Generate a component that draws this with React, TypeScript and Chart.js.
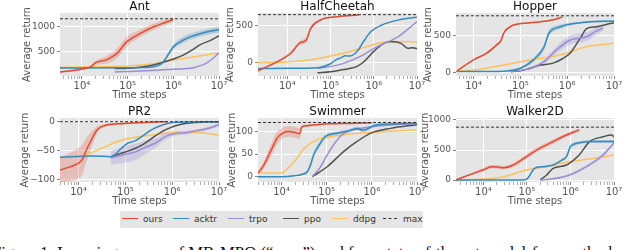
import React, { useEffect, useRef } from "react";
import { Chart, registerables } from "chart.js";

Chart.register(...registerables);
Chart.defaults.font.family = '"DejaVu Sans", sans-serif';

// ---------------- DATA ----------------
// Ant
const antOursSteps = [3.3e3, 6.3e3, 1e4, 1.6e4, 1.9e4, 3.5e4, 5.75e4, 9.5e4, 1.86e5, 3.6e5, 7.1e5, 1e6];
const antOursReturn = [90, 120, 150, 200, 265, 335, 455, 690, 855, 985, 1085, 1135];
const antOursStd = [15, 20, 25, 30, 40, 75, 95, 95, 75, 65, 55, 45];
const antAcktrSteps = [3.3e3, 1e5, 3.1e5, 5e5, 6e5, 7.9e5, 1e6, 1.6e6, 2.5e6, 3.8e6, 6.3e6, 1e7];
const antAcktrReturn = [170, 175, 185, 230, 290, 450, 590, 720, 800, 850, 900, 930];
const antAcktrStd = [5, 5, 10, 20, 30, 40, 50, 60, 60, 60, 60, 60];
const antTrpoSteps = [5.2e4, 1e5, 3.2e5, 1e6, 2.75e6, 5.4e6, 1e7];
const antTrpoReturn = [90, 100, 120, 145, 175, 270, 470];
const antPpoSteps = [5.2e4, 1e5, 2e5, 4e5, 6.3e5, 1e6, 1.6e6, 2.5e6, 4e6, 6.9e6, 1e7];
const antPpoReturn = [160, 165, 190, 240, 290, 350, 420, 520, 640, 730, 810];
const antDdpgSteps = [3.3e3, 1e4, 3.2e4, 1e5, 3.2e5, 1e6, 3.2e6, 1e7];
const antDdpgReturn = [185, 188, 195, 210, 250, 330, 400, 470];
const antMax = 1150;
const antTicks = [500, 1000];

// HalfCheetah
const hcOursSteps = [2.1e3, 5.9e3, 1.2e4, 2.0e4, 2.7e4, 3.5e4, 5.9e4, 1.45e5, 4.5e5];
const hcOursReturn = [-116, 8, 124, 270, 300, 470, 582, 628, 650];
const hcOursStd = [15, 15, 20, 30, 40, 30, 15, 10, 10];
const hcAcktrSteps = [2.1e3, 1e4, 5e4, 1e5, 1.4e5, 1.74e5, 2.24e5, 2.8e5, 3.5e5, 4.5e5, 6e5, 8.5e5, 1.5e6, 3.6e6, 1e7];
const hcAcktrReturn = [-85, -83, -75, -20, 40, 60, 90, 85, 110, 180, 300, 420, 510, 580, 620];
const hcTrpoSteps = [5e4, 1e5, 2e5, 4.9e5, 1.2e6, 3.6e6, 6.3e6, 1e7];
const hcTrpoReturn = [-80, -60, -15, 80, 215, 350, 460, 560];
const hcPpoSteps = [5e4, 1e5, 2e5, 2.9e5, 4e5, 6e5, 1e6, 1.6e6, 2.5e6, 4.3e6, 6.2e6, 7.9e6, 1e7];
const hcPpoReturn = [-145, -130, -100, -83, -60, 10, 150, 250, 285, 260, 190, 200, 190];
const hcDdpgSteps = [2.1e3, 1e4, 3.2e4, 1e5, 2e5, 6.9e5, 1.7e6, 4e6, 1e7];
const hcDdpgReturn = [-5, 5, 30, 85, 125, 215, 275, 285, 280];
const hcMax = 655;
const hcTicks = [0, 500];

// Hopper
const hopOursSteps = [4.4e3, 1e4, 1.9e4, 3.4e4, 3.8e4, 4.4e4, 5.6e4, 7.1e4, 1.6e5, 3.2e5, 5e5, 7.9e5];
const hopOursReturn = [25, 175, 265, 400, 430, 540, 610, 650, 680, 700, 720, 760];
const hopOursStd = [5, 10, 15, 20, 25, 25, 15, 10, 10, 10, 10, 10];
const hopAcktrSteps = [4.3e3, 3.2e4, 6.3e4, 1e5, 1.9e5, 3.2e5, 4e5, 7.1e5, 1.9e6, 1e7];
const hopAcktrReturn = [15, 15, 30, 60, 175, 350, 530, 625, 680, 705];
const hopAcktrStd = [3, 3, 5, 10, 30, 40, 40, 30, 15, 10];
const hopTrpoSteps = [6e4, 1.6e5, 3.2e5, 5.9e5, 1.15e6, 2.6e6, 4e6, 5.9e6];
const hopTrpoReturn = [15, 55, 150, 310, 445, 490, 560, 610];
const hopTrpoStd = [3, 10, 30, 50, 60, 60, 50, 40];
const hopPpoSteps = [6e4, 1e5, 1.6e5, 2.5e5, 5e5, 7.9e5, 1.15e6, 1.9e6, 2.6e6, 4.2e6, 7.1e6, 1e7];
const hopPpoReturn = [15, 25, 60, 100, 130, 190, 264, 470, 600, 625, 660, 680];
const hopDdpgSteps = [4.3e3, 1e4, 4.4e4, 1.6e5, 7.1e5, 2.6e6, 1e7];
const hopDdpgReturn = [20, 37, 105, 173, 240, 355, 400];
const hopMax = 775;
const hopTicks = [0, 500];

// PR2
const prOursSteps = [4e3, 6.3e3, 9.1e3, 1.2e4, 1.4e4, 1.8e4, 2.5e4, 3.5e4, 9.5e4, 3.2e5, 7.9e5];
const prOursReturn = [-83, -78, -73, -65, -52, -34, -14, -7, -3, -1, 0];
const prOursStd = [22, 24, 26, 26, 22, 15, 6, 3, 2, 1, 1];
const prAcktrSteps = [4e3, 2e4, 4.9e4, 6.3e4, 8.1e4, 1.12e5, 1.6e5, 2.2e5, 3.6e5, 6e5, 1.17e6, 1e7];
const prAcktrReturn = [-61, -59, -60, -55, -46, -37, -33, -26, -14, -6, -1, 0];
const prTrpoSteps = [4.9e4, 1e5, 1.6e5, 2.5e5, 4.3e5, 8.3e5, 2.3e6, 6.3e6, 1e7];
const prTrpoReturn = [-62, -56, -52, -45, -37, -23, -18, -11, -5];
const prTrpoStd = [12, 14, 14, 12, 8, 5, 3, 3, 3];
const prPpoSteps = [4.9e4, 1e5, 1.6e5, 2.5e5, 3.6e5, 7.1e5, 1.9e6, 1e7];
const prPpoReturn = [-60, -52, -46, -38, -29, -14, -3, 0];
const prDdpgSteps = [4e3, 9.1e3, 1.6e4, 3e4, 6.3e4, 1.12e5, 3.6e5, 1.4e6, 4e6, 1e7];
const prDdpgReturn = [-60, -60, -55, -46, -35, -29, -23, -18, -19, -23];
const prMax = 0;
const prTicks = [-100, -50, 0];

// Swimmer
const swOursSteps = [3.0e3, 4e3, 5.2e3, 6.3e3, 7.9e3, 1e4, 1.35e4, 2e4, 2.5e4, 2.8e4, 3.7e4, 1e5, 3.2e5, 1e6];
const swOursReturn = [8, 25, 48, 65, 85, 95, 100, 98, 95, 110, 113, 117, 118, 119];
const swOursStd = [4, 8, 12, 14, 14, 12, 12, 12, 12, 5, 3, 2, 2, 2];
const swAcktrSteps = [3.0e3, 1e4, 1.9e4, 2.8e4, 3.7e4, 4.5e4, 5.1e4, 6.8e4, 9.3e4, 1.7e5, 3.2e5, 4.7e5, 6.3e5, 1.3e6, 1e7];
const swAcktrReturn = [0, 0, 2, 5, 11, 30, 48, 70, 89, 96, 102, 107, 103, 115, 118];
const swAcktrStd = [0, 0, 1, 2, 3, 5, 6, 6, 5, 4, 4, 4, 6, 3, 2];
const swTrpoSteps = [4.8e4, 7.1e4, 1.02e5, 1.6e5, 2.4e5, 5.6e5, 3e6, 1e7];
const swTrpoReturn = [0, 20, 48, 78, 96, 107, 115, 118];
const swPpoSteps = [4.8e4, 1.02e5, 2.4e5, 4.7e5, 9.3e5, 2.6e6, 1e7];
const swPpoReturn = [0, 22, 56, 78, 96, 107, 115];
const swDdpgSteps = [3.0e3, 1e4, 1.4e4, 1.9e4, 3.2e4, 6.2e4, 1e5, 2.4e5, 1.3e6, 1e7];
const swDdpgReturn = [8, 8, 20, 33, 63, 82, 87, 93, 99, 104];
const swMax = 120;
const swTicks = [0, 50, 100];

// Walker2D
const wkOursSteps = [2.3e3, 5.9e3, 1e4, 1.55e4, 2.2e4, 2.9e4, 4.9e4, 9.8e4, 2e5, 4e5, 8.1e5, 1.6e6];
const wkOursReturn = [0, 110, 170, 220, 215, 205, 250, 390, 530, 640, 750, 835];
const wkOursStd = [5, 20, 30, 30, 30, 30, 35, 40, 40, 40, 30, 25];
const wkAcktrSteps = [2.3e3, 7.9e4, 1e5, 1.12e5, 1.5e5, 2.34e5, 4e5, 6.3e5, 8.1e5, 1e6, 1.15e6, 1.6e6, 3.2e6, 1e7];
const wkAcktrReturn = [0, 0, 20, 60, 195, 222, 250, 330, 390, 560, 590, 620, 640, 640];
const wkAcktrStd = [0, 0, 3, 8, 15, 15, 15, 20, 25, 30, 30, 25, 25, 25];
const wkTrpoSteps = [2e5, 4e5, 9.5e5, 2.3e6, 5.6e6, 1e7];
const wkTrpoReturn = [0, 20, 83, 222, 417, 620];
const wkTrpoStd = [0, 5, 15, 25, 30, 30];
const wkPpoSteps = [2e5, 2.8e5, 4e5, 8.1e5, 1.6e6, 2.75e6, 5.6e6, 8.7e6, 1e7];
const wkPpoReturn = [0, 80, 195, 250, 420, 640, 720, 750, 720];
const wkDdpgSteps = [2.3e3, 1e4, 2.9e4, 9.8e4, 2.8e5, 9.5e5, 3.3e6, 1e7];
const wkDdpgReturn = [0, 15, 56, 167, 222, 306, 360, 415];
const wkMax = 880;
const wkTicks = [0, 500, 1000];

const legendLabels = ["ours", "acktr", "trpo", "ppo", "ddpg", "max"];

// ---------------- STYLE / LAYOUT ----------------
const COLORS: Record<string, string> = {
  ours: "#E24A33",
  acktr: "#348ABD",
  trpo: "#988ED5",
  ppo: "#505050",
  ddpg: "#FBC15E",
  max: "#333333",
};
const BANDS: Record<string, string> = {
  ours: "rgba(226,74,51,0.25)",
  acktr: "rgba(52,138,189,0.28)",
  trpo: "rgba(152,142,213,0.3)",
  ppo: "rgba(85,85,85,0.2)",
  ddpg: "rgba(251,193,94,0.3)",
};

type Series = { name: string; steps: number[]; values: number[]; std?: number[] };
type PanelCfg = {
  title: string;
  L: number; R: number; T: number; B: number;
  yW: number; tPadTop: number; tPadBottom: number;
  xMin: number; yMin: number; yMax: number;
  yTicks: number[]; max: number; series: Series[];
};

const TITLE_H = 16;
const X_H = 25;
const PAD_R = 12;

const PANELS: PanelCfg[] = [
  {
    title: "Ant", L: 60, R: 219, T: 13, B: 76, yW: 39, tPadTop: 3.5, tPadBottom: 0.5,
    xMin: 3.3e3, yMin: 10, yMax: 1265, yTicks: antTicks, max: antMax,
    series: [
      { name: "ours", steps: antOursSteps, values: antOursReturn, std: antOursStd },
      { name: "acktr", steps: antAcktrSteps, values: antAcktrReturn, std: antAcktrStd },
      { name: "trpo", steps: antTrpoSteps, values: antTrpoReturn },
      { name: "ppo", steps: antPpoSteps, values: antPpoReturn },
      { name: "ddpg", steps: antDdpgSteps, values: antDdpgReturn },
    ],
  },
  {
    title: "HalfCheetah", L: 258, R: 417, T: 13, B: 76, yW: 34, tPadTop: 3.5, tPadBottom: 0.5,
    xMin: 2.1e3, yMin: -189, yMax: 678, yTicks: hcTicks, max: hcMax,
    series: [
      { name: "ours", steps: hcOursSteps, values: hcOursReturn, std: hcOursStd },
      { name: "acktr", steps: hcAcktrSteps, values: hcAcktrReturn },
      { name: "trpo", steps: hcTrpoSteps, values: hcTrpoReturn },
      { name: "ppo", steps: hcPpoSteps, values: hcPpoReturn },
      { name: "ddpg", steps: hcDdpgSteps, values: hcDdpgReturn },
    ],
  },
  {
    title: "Hopper", L: 456, R: 614, T: 13, B: 76, yW: 34, tPadTop: 3.5, tPadBottom: 0.5,
    xMin: 4.2e3, yMin: -45, yMax: 813, yTicks: hopTicks, max: hopMax,
    series: [
      { name: "ours", steps: hopOursSteps, values: hopOursReturn, std: hopOursStd },
      { name: "acktr", steps: hopAcktrSteps, values: hopAcktrReturn, std: hopAcktrStd },
      { name: "trpo", steps: hopTrpoSteps, values: hopTrpoReturn, std: hopTrpoStd },
      { name: "ppo", steps: hopPpoSteps, values: hopPpoReturn },
      { name: "ddpg", steps: hopDdpgSteps, values: hopDdpgReturn },
    ],
  },
  {
    title: "PR2", L: 60, R: 219, T: 118, B: 182, yW: 41, tPadTop: 3.7, tPadBottom: 0.3,
    xMin: 4e3, yMin: -103.5, yMax: 6.3, yTicks: prTicks, max: prMax,
    series: [
      { name: "ours", steps: prOursSteps, values: prOursReturn, std: prOursStd },
      { name: "acktr", steps: prAcktrSteps, values: prAcktrReturn },
      { name: "trpo", steps: prTrpoSteps, values: prTrpoReturn, std: prTrpoStd },
      { name: "ppo", steps: prPpoSteps, values: prPpoReturn },
      { name: "ddpg", steps: prDdpgSteps, values: prDdpgReturn },
    ],
  },
  {
    title: "Swimmer", L: 258, R: 417, T: 118, B: 182, yW: 32, tPadTop: 3.7, tPadBottom: 0.3,
    xMin: 3.0e3, yMin: -11.8, yMax: 130, yTicks: swTicks, max: swMax,
    series: [
      { name: "ours", steps: swOursSteps, values: swOursReturn, std: swOursStd },
      { name: "acktr", steps: swAcktrSteps, values: swAcktrReturn, std: swAcktrStd },
      { name: "trpo", steps: swTrpoSteps, values: swTrpoReturn },
      { name: "ppo", steps: swPpoSteps, values: swPpoReturn },
      { name: "ddpg", steps: swDdpgSteps, values: swDdpgReturn },
    ],
  },
  {
    title: "Walker2D", L: 456, R: 614, T: 118, B: 182, yW: 37, tPadTop: 3.7, tPadBottom: 0.3,
    xMin: 2.35e3, yMin: -33, yMax: 1033, yTicks: wkTicks, max: wkMax,
    series: [
      { name: "ours", steps: wkOursSteps, values: wkOursReturn, std: wkOursStd },
      { name: "acktr", steps: wkAcktrSteps, values: wkAcktrReturn, std: wkAcktrStd },
      { name: "trpo", steps: wkTrpoSteps, values: wkTrpoReturn, std: wkTrpoStd },
      { name: "ppo", steps: wkPpoSteps, values: wkPpoReturn },
      { name: "ddpg", steps: wkDdpgSteps, values: wkDdpgReturn },
    ],
  },
];

const SUP: Record<string, string> = {
  "0": "\u2070", "1": "\u00B9", "2": "\u00B2", "3": "\u00B3", "4": "\u2074",
  "5": "\u2075", "6": "\u2076", "7": "\u2077", "8": "\u2078", "9": "\u2079",
};
const isPow10 = (v: number) => {
  if (!(v > 0)) return false;
  const e = Math.log10(v);
  return Math.abs(e - Math.round(e)) < 1e-9;
};
const powLabel = (v: number) => "10" + String(Math.round(Math.log10(v))).split("").map((c) => SUP[c]).join("");
const fmtY = (v: number) => (v < 0 ? "\u2212" + String(-v) : String(v));

function logTicks(min: number, max: number) {
  const out: { value: number }[] = [];
  for (let e = Math.floor(Math.log10(min)); e <= Math.ceil(Math.log10(max)); e++) {
    for (let m = 1; m <= 9; m++) {
      const v = m * Math.pow(10, e);
      if (v >= min * 0.9999 && v <= max * 1.0001) out.push({ value: v });
    }
  }
  return out;
}

const bgPlugin = {
  id: "plotBg",
  beforeDraw(chart: any) {
    const { ctx, chartArea: a } = chart;
    ctx.save();
    ctx.fillStyle = "#E5E5E5";
    ctx.fillRect(a.left, a.top, a.right - a.left, a.bottom - a.top);
    ctx.restore();
  },
};

function Panel({ cfg }: { cfg: PanelCfg }) {
  const ref = useRef<HTMLCanvasElement | null>(null);
  const W = cfg.yW + (cfg.R - cfg.L) + PAD_R;
  const H = TITLE_H + (cfg.B - cfg.T) + X_H;

  useEffect(() => {
    if (!ref.current) return;
    const datasets: any[] = [];
    cfg.series.forEach((s, i) => {
      datasets.push({
        label: s.name,
        data: s.steps.map((x, j) => ({ x, y: s.values[j] })),
        borderColor: COLORS[s.name],
        borderWidth: 1.5,
        pointRadius: 0,
        fill: false,
        order: i + 1,
        cubicInterpolationMode: "monotone",
      });
      if (s.std) {
        const sd = s.std;
        datasets.push({
          label: s.name + " upper",
          data: s.steps.map((x, j) => ({ x, y: s.values[j] + sd[j] })),
          borderWidth: 0,
          borderColor: "rgba(0,0,0,0)",
          pointRadius: 0,
          fill: false,
          order: 20 + i,
          cubicInterpolationMode: "monotone",
        });
        datasets.push({
          label: s.name + " lower",
          data: s.steps.map((x, j) => ({ x, y: s.values[j] - sd[j] })),
          borderWidth: 0,
          borderColor: "rgba(0,0,0,0)",
          backgroundColor: BANDS[s.name],
          pointRadius: 0,
          fill: "-1",
          order: 20 + i,
          cubicInterpolationMode: "monotone",
        });
      }
    });
    datasets.push({
      label: "max",
      data: [
        { x: cfg.xMin, y: cfg.max },
        { x: 1e7, y: cfg.max },
      ],
      borderColor: COLORS.max,
      borderWidth: 1,
      borderDash: [3, 2],
      pointRadius: 0,
      fill: false,
      order: 0,
    });

    const chart = new Chart(ref.current, {
      type: "line",
      data: { datasets },
      options: {
        responsive: false,
        animation: false,
        devicePixelRatio: 1,
        layout: { padding: { left: 0, right: PAD_R, top: 0, bottom: 0 } },
        plugins: {
          legend: { display: false },
          tooltip: { enabled: false },
          title: {
            display: true,
            text: cfg.title,
            color: "#111",
            fullSize: false,
            font: { size: 12, lineHeight: 1, weight: "normal" },
            padding: { top: cfg.tPadTop, bottom: cfg.tPadBottom },
          },
        },
        scales: {
          x: {
            type: "logarithmic",
            min: cfg.xMin,
            max: 1e7,
            bounds: "data",
            afterBuildTicks: (sc: any) => {
              sc.ticks = logTicks(cfg.xMin, 1e7);
            },
            afterFit: (sc: any) => {
              sc.height = X_H;
              sc.paddingLeft = 0;
              sc.paddingRight = 0;
            },
            border: { display: false },
            grid: {
              color: (ctx: any) => (ctx.tick && isPow10(ctx.tick.value) ? "#FFFFFF" : "rgba(0,0,0,0)"),
              tickColor: (ctx: any) => (ctx.tick && isPow10(ctx.tick.value) ? "#666" : "#999"),
              lineWidth: 1,
              tickLength: 3,
              tickWidth: 0.8,
            },
            ticks: {
              autoSkip: false,
              maxRotation: 0,
              minRotation: 0,
              padding: 1,
              color: "#555",
              font: { size: 10 },
              callback: (v: any) => (isPow10(Number(v)) ? powLabel(Number(v)) : ""),
            },
            title: {
              display: true,
              text: "Time steps",
              color: "#555",
              font: { size: 10 },
              padding: { top: 0, bottom: 0 },
            },
          },
          y: {
            type: "linear",
            min: cfg.yMin,
            max: cfg.yMax,
            bounds: "data",
            afterBuildTicks: (sc: any) => {
              sc.ticks = cfg.yTicks.map((v) => ({ value: v }));
            },
            afterFit: (sc: any) => {
              sc.width = cfg.yW;
              sc.paddingTop = 0;
              sc.paddingBottom = 0;
            },
            border: { display: false },
            grid: { color: "#FFFFFF", lineWidth: 1, tickLength: 3, tickColor: "#666", tickWidth: 0.8 },
            ticks: {
              autoSkip: false,
              padding: 2,
              color: "#555",
              font: { size: 9 },
              callback: (v: any) => fmtY(Number(v)),
            },
            title: {
              display: true,
              text: "Average return",
              color: "#555",
              font: { size: 10 },
              padding: { top: 0, bottom: 0 },
            },
          },
        },
      } as any,
      plugins: [bgPlugin],
    });
    return () => chart.destroy();
  }, []);

  return (
    <canvas
      ref={ref}
      width={W}
      height={H}
      style={{ position: "absolute", left: cfg.L - cfg.yW, top: cfg.T - TITLE_H, width: W, height: H }}
    />
  );
}

const LEGEND_POS = [122, 173, 228, 283, 332, 383];

export default function App() {
  return (
    <div
      style={{
        position: "absolute",
        left: 0,
        top: 0,
        width: 640,
        height: 250,
        overflow: "hidden",
        background: "#fff",
      }}
    >
      {PANELS.map((p) => (
        <Panel key={p.title} cfg={p} />
      ))}
      <div
        style={{
          position: "absolute",
          left: 120,
          top: 211,
          width: 303,
          height: 17,
          background: "#E5E5E5",
          borderRadius: 2,
        }}
      />
      {legendLabels.map((name, i) => (
        <React.Fragment key={name}>
          <div
            style={{
              position: "absolute",
              left: LEGEND_POS[i],
              top: 218,
              width: name === "max" ? 14 : 16,
              height: 0,
              borderTop: name === "max" ? "1px dashed #333" : `1.5px solid ${COLORS[name]}`,
            }}
          />
          <div
            style={{
              position: "absolute",
              left: LEGEND_POS[i] + (name === "max" ? 20 : 21),
              top: 213,
              lineHeight: "12px",
              fontSize: 9,
              fontFamily: '"DejaVu Sans", sans-serif',
              color: "#333",
              whiteSpace: "nowrap",
            }}
          >
            {name}
          </div>
        </React.Fragment>
      ))}
      <div
        style={{
          position: "absolute",
          left: -8,
          top: 245,
          fontFamily: '"Liberation Serif", "Times New Roman", serif',
          fontSize: 16.8,
          lineHeight: "16px",
          color: "#111",
          whiteSpace: "nowrap",
        }}
      >
        Figure 1: Learning curves of MB-MPO (“ours”) and four state-of-the-art model-free methods on six continuous control tasks
      </div>
    </div>
  );
}
